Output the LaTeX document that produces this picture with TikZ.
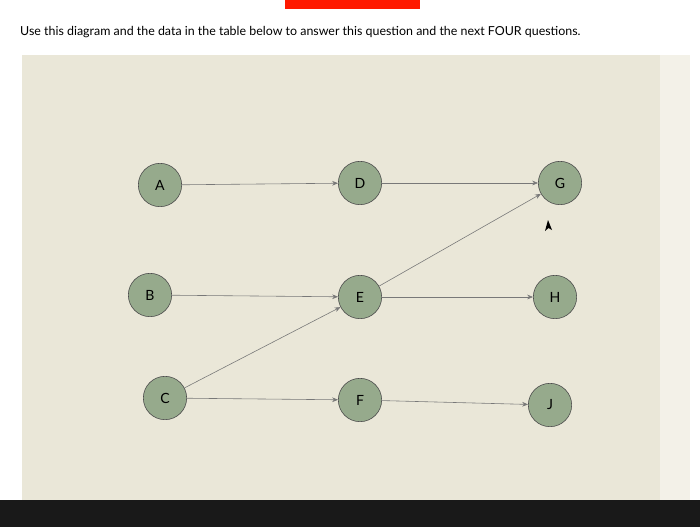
\documentclass[tikz,border=0pt]{standalone}
\usepackage{fontspec}
\setmainfont{Lato}
\usetikzlibrary{arrows.meta}
\definecolor{panel}{RGB}{234,231,216}
\definecolor{nodefill}{RGB}{150,170,140}
\definecolor{edge}{RGB}{120,120,120}
\begin{document}
\begin{tikzpicture}[x=0.03cm,y=-0.03cm,
  vert/.style={circle,draw=black!70,fill=nodefill,line width=0.5pt,minimum size=1.3cm,inner sep=0pt,font=\fontsize{12}{14}\selectfont},
  conn/.style={draw=edge,line width=0.5pt,-{Stealth[length=5pt,width=4pt]}}]
\useasboundingbox (0,0) rectangle (700,527);
\fill[white] (0,0) rectangle (700,527);
\fill[red!80!orange] (285,0) rectangle (420,9);
\fill[panel] (22,55) rectangle (660,500);
\fill[panel!60!white] (660,55) rectangle (690,500);
\fill[black!90] (0,500) rectangle (700,527);
\node[anchor=west,inner sep=0pt,font=\fontsize{10.6}{13}\selectfont] (title) at (20,32) {Use this diagram and the data in the table below to answer this question and the next FOUR questions.};
\node[vert] (A) at (160,185) {A};
\node[vert] (D) at (360,183) {D};
\node[vert] (G) at (560,183) {G};
\node[vert] (B) at (150,295) {B};
\node[vert] (E) at (360,297) {E};
\node[vert] (H) at (555,297) {H};
\node[vert] (C) at (165,398) {C};
\node[vert] (F) at (360,400) {F};
\node[vert] (J) at (550,405) {J};
\draw[conn] (A) -- (D);
\draw[conn] (D) -- (G);
\draw[conn] (B) -- (E);
\draw[conn] (E) -- (H);
\draw[conn] (C) -- (F);
\draw[conn] (F) -- (J);
\draw[conn] (C) -- (E);
\draw[conn] (E) -- (G);
\fill[black] (548,220) -- (552,230) -- (548.5,228) -- (545,231) -- cycle;
\end{tikzpicture}
\end{document}
